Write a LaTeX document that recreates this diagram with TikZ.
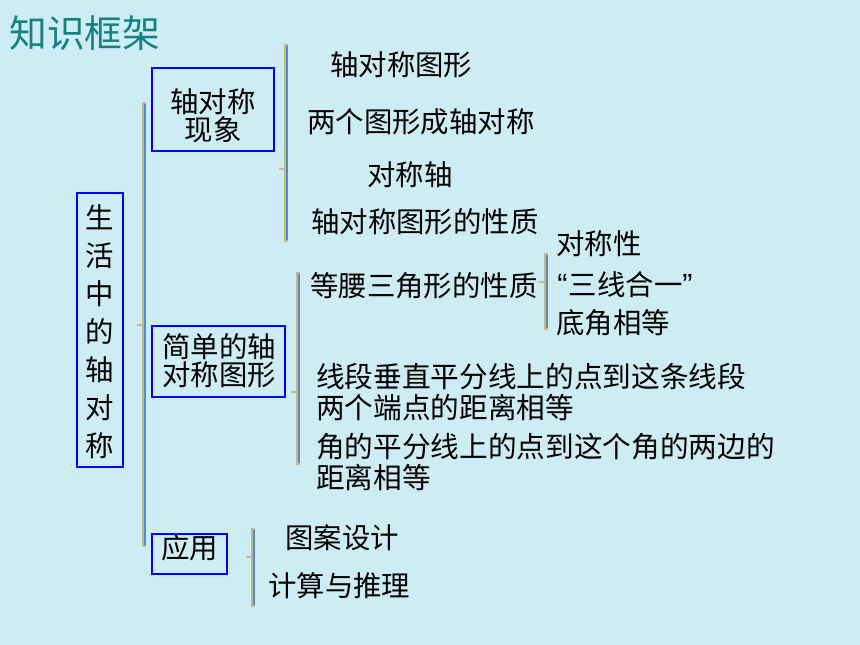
\documentclass[tikz,border=0pt]{standalone}
\usepackage{fontspec}
\newfontfamily\cjk{Noto Sans CJK SC}
\newfontfamily\latin{Liberation Sans}
\definecolor{bgcyan}{RGB}{205,236,244}
\definecolor{titlegreen}{RGB}{20,130,130}
\definecolor{bartan}{RGB}{196,184,140}
\definecolor{barblue}{RGB}{90,138,200}
\definecolor{boxblue}{RGB}{0,0,255}
\tikzset{
  framebox/.style = {draw=boxblue, line width=1.5pt, inner sep=0pt},
  lbl/.style = {inner sep=0pt, font=\cjk\fontsize{21.3}{21}\selectfont},
  item/.style = {lbl, anchor=west, align=left},
}

\begin{document}
\begin{tikzpicture}[x=0.75pt, y=-0.75pt]
  \fill[bgcyan] (0,0) rectangle (860,645);

  % title
  \node[inner sep=0pt, text=titlegreen, font=\cjk\fontsize{28.3}{28}\selectfont] (title) at (85,33) {知识框架};

  % boxes
  \node[framebox, minimum width=34.5pt, minimum height=205.5pt] (life) at (100,330) {};
  \node[lbl, align=center, font=\cjk\fontsize{21.3}{28.5}\selectfont] (lifetxt) at (100,332) {生\\活\\中\\的\\轴\\对\\称};
  \node[framebox, minimum width=91.5pt, minimum height=62.25pt] (phen) at (213,109.5) {};
  \node[lbl, align=center, font=\cjk\fontsize{21.3}{18.75}\selectfont] (phentxt) at (213,115.5) {轴对称\\现象};
  \node[framebox, minimum width=99.75pt, minimum height=53.25pt] (simple) at (218.5,361.5) {};
  \node[lbl, align=center, font=\cjk\fontsize{21.3}{21}\selectfont] (simpletxt) at (219,361) {简单的轴\\对称图形};
  \node[framebox, minimum width=56.25pt, minimum height=30pt] (use) at (189.5,554) {};
  \node[lbl] (usetxt) at (189.5,548) {应用};

  % brackets: x / top / bottom / tick
  \foreach \x/\top/\bot/\mid [count=\i] in {144/102/547/325, 286/44/242/169, 298/272/465/392, 546/253/330/282, 253/528/607/557}{
    \coordinate (top\i) at (\x,\top);
    \coordinate (bot\i) at (\x,\bot);
    \draw[bartan, line width=3pt] (top\i) -- (bot\i);
    \draw[barblue, line width=1.6pt] ([xshift=0.9pt, yshift=-1.5pt]top\i) -- ([xshift=0.9pt, yshift=1.5pt]bot\i);
    \draw[bartan, line width=1.5pt] (\x,\mid) -- ++(-7,0);
  }

  % items
  \node[item] (shape)   at (330,65)  {轴对称图形};
  \node[item] (two)     at (307,122) {两个图形成轴对称};
  \node[item] (axis)    at (367,175) {对称轴};
  \node[item] (prop)    at (311,222) {轴对称图形的性质};
  \node[item] (iso)     at (310,286) {等腰三角形的性质};
  \node[item, font=\cjk\fontsize{21.5}{23.25}\selectfont] (perp) at (316,392.5) {线段垂直平分线上的点到这条线段\\两个端点的距离相等};
  \node[item, font=\cjk\fontsize{21.5}{23.25}\selectfont] (bisect) at (316,462.5) {角的平分线上的点到这个角的两边的\\距离相等};
  \node[item] (sym)     at (556,244) {对称性};
  \node[item] (three)   at (557,285) {{\latin\fontsize{23}{23}\selectfont “}\kern1pt三线合一{\latin\fontsize{23}{23}\selectfont ”}};
  \node[item] (base)    at (556,323) {底角相等};
  \node[item] (design)  at (285,538) {图案设计};
  \node[item] (calc)    at (268,586) {计算与推理};
\end{tikzpicture}
\end{document}
